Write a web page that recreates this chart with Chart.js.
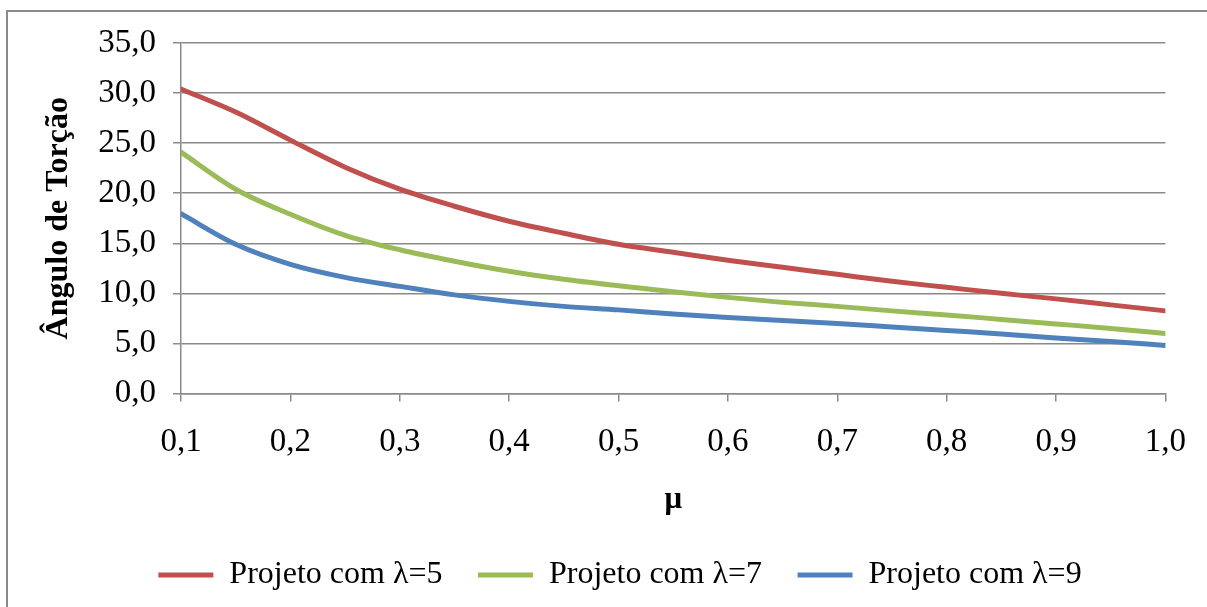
<!DOCTYPE html>
<html>
<head>
<meta charset="utf-8">
<script src="https://cdn.jsdelivr.net/npm/chart.js@4.4.1/dist/chart.umd.min.js"></script>
<style>
  html, body { margin: 0; padding: 0; background: #ffffff; }
  #wrap { width: 1207px; height: 607px; position: relative; }
</style>
</head>
<body>
<div id="wrap"><canvas id="chart"></canvas></div>
<script>
// Friction coefficient μ (x values)
const muValues = [0.10, 0.15, 0.20, 0.25, 0.30, 0.35, 0.40, 0.45, 0.50, 0.55,
                  0.60, 0.65, 0.70, 0.75, 0.80, 0.85, 0.90, 0.95, 1.00];

// Twist angle for each design
const twistLambda5 = [30.4, 28.1, 25.3, 22.6, 20.4, 18.7, 17.2, 16.0, 14.9, 14.1,
                      13.3, 12.6, 11.9, 11.2, 10.6, 10.0, 9.45, 8.85, 8.25];
const twistLambda7 = [24.1, 20.4, 17.9, 15.8, 14.35, 13.2, 12.2, 11.4, 10.75, 10.15,
                      9.6, 9.1, 8.7, 8.25, 7.85, 7.4, 6.95, 6.5, 6.0];
const twistLambda9 = [17.95, 14.9, 12.9, 11.6, 10.7, 9.85, 9.2, 8.7, 8.35, 7.95,
                      7.6, 7.3, 7.0, 6.65, 6.3, 5.95, 5.55, 5.2, 4.8];

const seriesLabels = ['Projeto com λ=5', 'Projeto com λ=7', 'Projeto com λ=9'];
const seriesColors = ['#C0504D', '#9BBB59', '#4F81BD'];

// Axis tick values
const xTickValues = [0.1, 0.2, 0.3, 0.4, 0.5, 0.6, 0.7, 0.8, 0.9, 1.0];
const yTickValues = [0, 5, 10, 15, 20, 25, 30, 35];

const axisTitleY = 'Ângulo de Torção';
const axisTitleX = 'μ';

const SERIF = '"Liberation Serif", "Times New Roman", serif';
const GRID = '#8a8a8a';

function toPoints(values) {
  return values.map((v, i) => ({ x: muValues[i], y: v }));
}

function commaFixed(v) {
  return Number(v).toFixed(1).replace('.', ',');
}

// White page with the thin gray frame along the top and left edges
const framePlugin = {
  id: 'frame',
  beforeDraw(chart) {
    const { ctx, width, height } = chart;
    ctx.save();
    ctx.fillStyle = '#ffffff';
    ctx.fillRect(0, 0, width, height);
    ctx.strokeStyle = GRID;
    ctx.lineWidth = 2;
    ctx.beginPath();
    ctx.moveTo(7, height + 2);
    ctx.lineTo(7, 11);
    ctx.lineTo(width + 2, 11);
    ctx.stroke();
    ctx.restore();
  }
};

const datasets = [twistLambda5, twistLambda7, twistLambda9].map((vals, i) => ({
  label: seriesLabels[i],
  data: toPoints(vals),
  borderColor: seriesColors[i],
  backgroundColor: seriesColors[i],
  borderWidth: 5,
  borderCapStyle: 'round',
  borderJoinStyle: 'round',
  pointRadius: 0,
  pointHoverRadius: 0,
  cubicInterpolationMode: 'monotone',
  fill: false
}));

// Left inset keeps the bottom legend centred under the plot body
const LEFT_INSET = 73;

new Chart(document.getElementById('chart'), {
  type: 'line',
  data: { datasets },
  plugins: [framePlugin],
  options: {
    responsive: true,
    maintainAspectRatio: false,
    animation: false,
    devicePixelRatio: 1,
    layout: { padding: { left: LEFT_INSET, top: 43, right: 40, bottom: 6 } },
    plugins: {
      tooltip: { enabled: false },
      legend: {
        display: true,
        position: 'bottom',
        labels: {
          usePointStyle: true,
          pointStyle: 'line',
          pointStyleWidth: 55,
          color: '#000000',
          padding: 35.5,
          font: { family: SERIF, size: 32 }
        }
      }
    },
    scales: {
      x: {
        type: 'linear',
        min: 0.1,
        max: 1.0,
        afterBuildTicks(scale) { scale.ticks = xTickValues.map(v => ({ value: v })); },
        afterFit(scale) { scale.height = 130; },
        border: { display: true, color: GRID, width: 1.5 },
        grid: { display: true, drawOnChartArea: false, drawTicks: true, tickLength: 8, color: GRID, lineWidth: 1.5 },
        ticks: {
          color: '#000000',
          padding: 21,
          maxRotation: 0,
          font: { family: SERIF, size: 33 },
          callback: (v) => commaFixed(v)
        },
        title: {
          display: true,
          text: axisTitleX,
          color: '#000000',
          font: { family: SERIF, size: 31, weight: 'bold' },
          padding: { top: 0, bottom: 5 }
        }
      },
      y: {
        type: 'linear',
        min: 0,
        max: 35,
        afterBuildTicks(scale) { scale.ticks = yTickValues.map(v => ({ value: v })); },
        afterFit(scale) { scale.width = 181 - LEFT_INSET; },
        border: { display: true, color: GRID, width: 1.5 },
        grid: { display: true, drawTicks: true, tickLength: 8, color: GRID, lineWidth: 1.5 },
        ticks: {
          color: '#000000',
          padding: 17,
          font: { family: SERIF, size: 33 },
          callback: (v) => commaFixed(v)
        },
        title: {
          display: true,
          text: axisTitleY,
          color: '#000000',
          font: { family: SERIF, size: 32, weight: 'bold' },
          padding: { top: 40 - LEFT_INSET, bottom: 0 }
        }
      }
    }
  }
});
</script>
</body>
</html>
